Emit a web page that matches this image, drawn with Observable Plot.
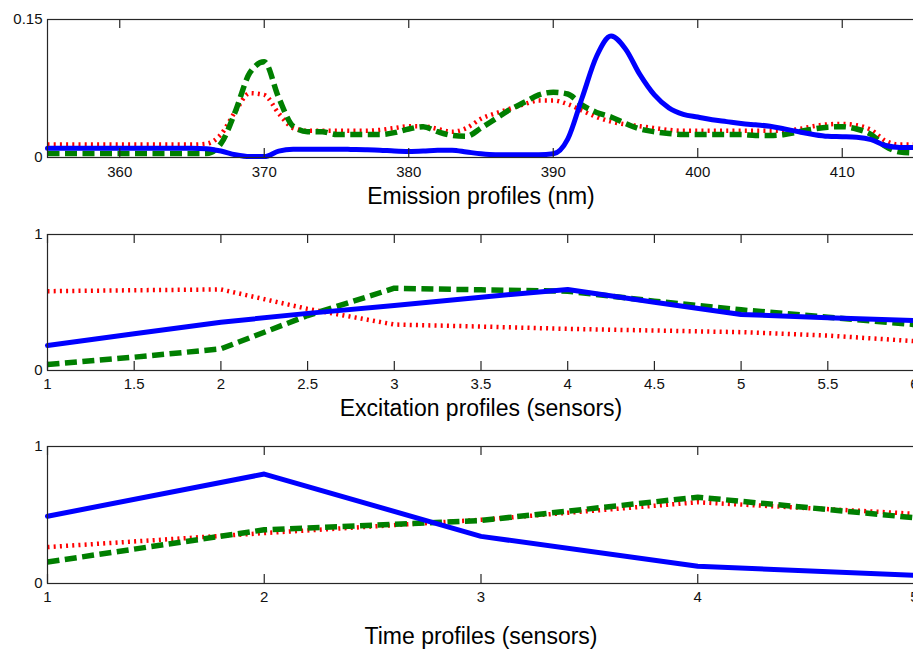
<!DOCTYPE html>
<html><head><meta charset="utf-8">
<script src="https://cdn.jsdelivr.net/npm/d3@7"></script>
<script src="https://cdn.jsdelivr.net/npm/@observablehq/plot@0.6"></script>
<style>
html,body{margin:0;padding:0;background:#fff;overflow:hidden;}
#wrap{width:913px;height:649px;overflow:hidden;position:relative;background:#fff;}
#wrap svg{display:block;max-width:none !important;}
</style></head><body><div id="wrap"></div>
<script>
// ---------- Panel 1: emission profiles ----------
const emNm = [355,356,357,358,359,360,361,362,363,364,365,366,367,368,369,370,371,372,373,374,375,376,377,378,379,380,381,382,383,384,385,386,387,388,389,390,391,392,393,394,395,396,397,398,399,400,401,402,403,404,405,406,407,408,409,410,411,412,413,414,415];
const emBlue = [0.010,0.010,0.010,0.010,0.010,0.010,0.010,0.010,0.010,0.010,0.010,0.0095,0.007,0.003,0.001,0.001,0.007,0.009,0.009,0.009,0.009,0.0088,0.0085,0.008,0.007,0.0065,0.007,0.008,0.008,0.006,0.004,0.003,0.003,0.003,0.003,0.004,0.020,0.065,0.110,0.132,0.118,0.090,0.068,0.054,0.047,0.044,0.041,0.039,0.037,0.0355,0.034,0.031,0.028,0.025,0.023,0.0226,0.022,0.0195,0.013,0.011,0.011];
const emRed = [0.014,0.014,0.014,0.014,0.014,0.014,0.014,0.014,0.014,0.014,0.014,0.015,0.025,0.050,0.070,0.068,0.048,0.032,0.029,0.029,0.029,0.029,0.029,0.030,0.032,0.034,0.034,0.031,0.028,0.032,0.042,0.048,0.053,0.058,0.062,0.062,0.058,0.051,0.044,0.039,0.036,0.034,0.032,0.030,0.029,0.029,0.029,0.029,0.029,0.029,0.029,0.029,0.031,0.034,0.036,0.0365,0.035,0.030,0.018,0.014,0.014];
const emGreen = [0.0044,0.0044,0.0044,0.0044,0.0044,0.0044,0.0044,0.0044,0.0044,0.0044,0.0044,0.0044,0.015,0.050,0.092,0.104,0.065,0.034,0.028,0.028,0.025,0.025,0.025,0.025,0.027,0.031,0.0335,0.028,0.024,0.023,0.032,0.042,0.052,0.060,0.068,0.071,0.069,0.057,0.049,0.044,0.037,0.031,0.028,0.026,0.025,0.025,0.025,0.025,0.025,0.024,0.024,0.025,0.028,0.031,0.033,0.0335,0.031,0.025,0.012,0.006,0.005];
const emXTicks = [360,370,380,390,400,410];
const emYTicks = [0,0.15];

// ---------- Panel 2: excitation profiles ----------
const exSensor = [1,1.5,2,2.5,3,3.5,4,4.5,5,5.5,6];
const exBlue  = [0.184,0.27,0.355,0.42,0.478,0.539,0.596,0.502,0.412,0.387,0.368];
const exRed   = [0.583,0.59,0.596,0.453,0.338,0.323,0.306,0.294,0.282,0.257,0.216];
const exGreen = [0.044,0.098,0.159,0.404,0.605,0.593,0.583,0.51,0.446,0.392,0.338];
const exXTicks = [1,1.5,2,2.5,3,3.5,4,4.5,5,5.5,6];
const exYTicks = [0,1];

// ---------- Panel 3: time profiles ----------
const tmSensor = [1,2,3,4,5];
const tmBlue  = [0.491,0.799,0.344,0.126,0.060];
const tmRed   = [0.266,0.368,0.465,0.593,0.509];
const tmGreen = [0.157,0.392,0.46,0.63,0.48];
const tmXTicks = [1,2,3,4,5];
const tmYTicks = [0,1];

const titles = ["Emission profiles (nm)", "Excitation profiles (sensors)", "Time profiles (sensors)"];

function rowsOf(xs, ys) { return xs.map((x, i) => ({x, y: ys[i]})); }

const FONT = "'Liberation Sans', Arial, Helvetica, sans-serif";
const AX = "#262626";

function panel(o) {
  const fh = o.height - o.mt - o.mb;
  const tl = 9;
  return Plot.plot({
    width: 960, height: o.height,
    marginLeft: 47, marginRight: 46, marginTop: o.mt, marginBottom: o.mb,
    style: {fontFamily: FONT, fontSize: "15px", background: "#fff"},
    x: {domain: o.xDomain, axis: null},
    y: {domain: o.yDomain, axis: null},
    marks: [
      Plot.line(rowsOf(o.xs, o.red), {x: "x", y: "y", stroke: "#ff0000", strokeWidth: 4.5, strokeDasharray: "2,4.2", strokeLinecap: "butt", curve: o.curve}),
      Plot.line(rowsOf(o.xs, o.green), {x: "x", y: "y", stroke: "#007f00", strokeWidth: 5.5, strokeDasharray: "12,5.5", strokeLinecap: "butt", curve: o.curve}),
      Plot.line(rowsOf(o.xs, o.blue), {x: "x", y: "y", stroke: "#0000ff", strokeWidth: 5, curve: o.curve}),
      Plot.frame({stroke: AX, strokeWidth: 1.2}),
      Plot.ruleX(o.xTicks, {x: d => d, insetTop: fh - tl, stroke: AX, strokeWidth: 1.2}),
      Plot.ruleX(o.xTicks, {x: d => d, insetBottom: fh - tl, stroke: AX, strokeWidth: 1.2}),
      Plot.text(o.xTicks, {x: d => d, text: d => String(d), frameAnchor: "bottom", lineAnchor: "middle", dy: o.tickDy, fontSize: 15, fill: "#111"}),
      Plot.text(o.yTicks, {y: d => d, text: d => String(d), frameAnchor: "left", textAnchor: "end", lineAnchor: "middle", dx: -5, fontSize: 15, fill: "#111"}),
      Plot.text([o.title], {text: d => d, frameAnchor: "bottom", lineAnchor: "middle", dy: o.titleDy, fontSize: 23, fill: "#000"})
    ]
  });
}

const wrap = document.getElementById("wrap");
wrap.appendChild(panel({height: 215, mt: 19, mb: 58, xDomain: [355, 415], yDomain: [0, 0.15],
  xs: emNm, blue: emBlue, red: emRed, green: emGreen, xTicks: emXTicks, yTicks: emYTicks,
  curve: "monotone-x", tickDy: 15, title: titles[0], titleDy: 39.5}));
wrap.appendChild(panel({height: 215, mt: 19, mb: 60, xDomain: [1, 6], yDomain: [0, 1],
  xs: exSensor, blue: exBlue, red: exRed, green: exGreen, xTicks: exXTicks, yTicks: exYTicks,
  curve: "linear", tickDy: 13.5, title: titles[1], titleDy: 38}));
wrap.appendChild(panel({height: 219, mt: 16, mb: 66, xDomain: [1, 5], yDomain: [0, 1],
  xs: tmSensor, blue: tmBlue, red: tmRed, green: tmGreen, xTicks: tmXTicks, yTicks: tmYTicks,
  curve: "linear", tickDy: 13.5, title: titles[2], titleDy: 53.5}));
</script></body></html>
